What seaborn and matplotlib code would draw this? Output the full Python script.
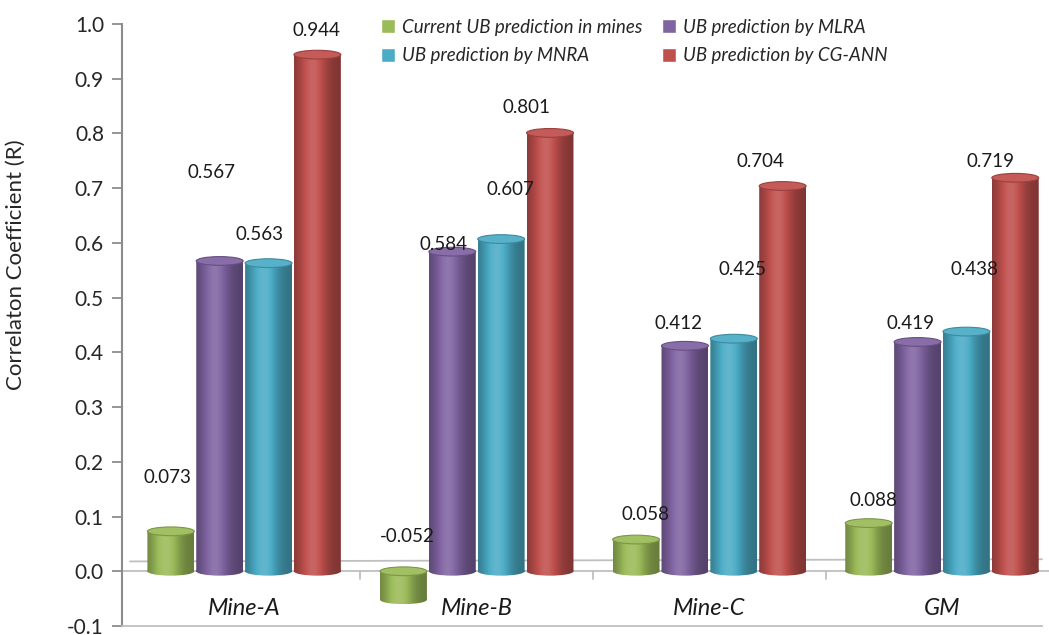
import numpy as np
import pandas as pd
import matplotlib
matplotlib.use("Agg")
import matplotlib.pyplot as plt
from matplotlib.patches import Ellipse, PathPatch
from matplotlib.path import Path
from matplotlib.colors import to_rgb
import seaborn as sns

# ---- data ----
sites = ["Mine-A", "Mine-B", "Mine-C", "GM"]
methods = [
    "Current UB prediction in mines",
    "UB prediction by MLRA",
    "UB prediction by MNRA",
    "UB prediction by CG-ANN",
]
current_ub = [0.073, -0.052, 0.058, 0.088]
mlra = [0.567, 0.584, 0.412, 0.419]
mnra = [0.563, 0.607, 0.425, 0.438]
cg_ann = [0.944, 0.801, 0.704, 0.719]
y_ticks = [-0.1, 0.0, 0.1, 0.2, 0.3, 0.4, 0.5, 0.6, 0.7, 0.8, 0.9, 1.0]

colors = ["#9BBB59", "#8064A2", "#4BACC6", "#C0504D"]

# value-label offsets (dx, dy) in data units, per method then site
label_dx = [
    [-0.013, 0.017, 0.039, 0.021],
    [-0.034, -0.039, -0.026, -0.030],
    [-0.039, 0.039, 0.039, 0.034],
    [-0.004, -0.099, -0.094, -0.107],
]
label_dy = [
    [0.099, 0.116, 0.046, 0.042],
    [0.162, 0.014, 0.040, 0.033],
    [0.053, 0.091, 0.127, 0.114],
    [0.045, 0.047, 0.044, 0.029],
]

series = [current_ub, mlra, mnra, cg_ann]
df = pd.DataFrame({
    "site": np.tile(sites, len(methods)),
    "method": np.repeat(methods, len(sites)),
    "R": np.concatenate(series),
})

sns.set_theme(style="white")
plt.rcParams["font.family"] = ["Lato", "DejaVu Sans"]

W, H = 1049, 635
fig = plt.figure(figsize=(W / 100, H / 100), dpi=100)
ax = fig.add_axes([122 / W, (H - 626) / H, (W - 122) / W, (626 - 24) / H])

sns.barplot(data=df, x="site", y="R", hue="method", hue_order=methods,
            palette=colors, saturation=1, width=0.84, gap=0.04,
            errorbar=None, ax=ax)


def shade(rgb, f):
    rgb = np.array(rgb)
    if f >= 1:
        return np.clip(rgb + (1 - rgb) * (f - 1), 0, 1)
    return np.clip(rgb * f, 0, 1)


def cylinder_img(rgb, n=96):
    t = np.linspace(0, 1, n)
    f = 0.66 + 0.46 * np.exp(-((t - 0.4) / 0.3) ** 2)
    img = np.array([shade(rgb, v) for v in f])
    return img[np.newaxis, :, :]


cap_h = 0.016
for ci, cont in enumerate(ax.containers):
    rgb = to_rgb(colors[ci])
    img = cylinder_img(rgb)
    for si, bar in enumerate(cont.patches):
        x0 = bar.get_x()
        w = bar.get_width()
        y0 = bar.get_y()
        h = bar.get_height()
        lo, hi = min(y0, y0 + h), max(y0, y0 + h)
        bar.set_visible(False)
        # cylinder body: rectangle plus rounded bottom, filled with a gradient
        body = plt.Rectangle((x0, lo), w, hi - lo)
        bottom = Ellipse((x0 + w / 2, lo), w, cap_h)
        outline = Path.make_compound_path(
            body.get_path().transformed(body.get_patch_transform()),
            bottom.get_path().transformed(bottom.get_patch_transform()))
        cp = PathPatch(outline, transform=ax.transData, facecolor="none",
                       edgecolor="none")
        ax.add_patch(cp)
        im = ax.imshow(img, extent=(x0, x0 + w, lo - cap_h / 2, hi),
                       aspect="auto", zorder=3, interpolation="bilinear")
        im.set_clip_path(cp)
        # top cap
        top = Ellipse((x0 + w / 2, hi), w, cap_h, facecolor=shade(rgb, 1.06),
                      edgecolor=shade(rgb, 0.8), lw=0.8, zorder=4)
        ax.add_patch(top)
        # value label
        val = series[ci][si]
        ax.text(x0 + w / 2 + label_dx[ci][si], val + label_dy[ci][si],
                f"{val:.3f}", ha="center", va="center", fontsize=13.5,
                color="#1a1a1a", zorder=5)

ax.set_xlim(-0.525, 3.46)
ax.set_ylim(-0.1, 1.0)

# floor
grey = "#BFBFBF"
ax.axhline(0.0, color=grey, lw=1.3, zorder=2)
ax.plot([-0.49, 3.43], [0.018, 0.022], color=grey, lw=1.3, zorder=2)
for b in [0.5, 1.5, 2.5]:
    ax.plot([b, b], [0.0, -0.015], color=grey, lw=1.3, zorder=2)

ax.set_yticks(y_ticks)
ax.set_yticklabels([f"{v:.1f}" for v in y_ticks], fontsize=15)
ax.tick_params(axis="y", length=7, width=1.3, color="#8C8C8C", left=True,
               pad=6)
ax.set_xticks([])
ax.set_xlabel("")
for i, s in enumerate(sites):
    ax.text(i, -0.068, s, ha="center", va="center", fontsize=17,
            style="italic", color="#1a1a1a")

ax.set_ylabel("Correlaton Coefficient (R)", fontsize=16)
ax.yaxis.set_label_coords(-0.104, 0.60)

for side in ["top", "right"]:
    ax.spines[side].set_visible(False)
ax.spines["left"].set_color("#8C8C8C")
ax.spines["left"].set_linewidth(1.5)
ax.spines["bottom"].set_color(grey)
ax.spines["bottom"].set_linewidth(1.3)
ax.spines["bottom"].set_bounds(-0.525, 3.43)

# legend laid out row-wise: (Current, MLRA) / (MNRA, CG-ANN)
handles, labels = ax.get_legend_handles_labels()
order = [0, 2, 1, 3]
ax.legend([handles[i] for i in order], [labels[i] for i in order],
          loc="upper left", bbox_to_anchor=(364 / W, 1 - 2 / H),
          bbox_transform=fig.transFigure, ncol=2, frameon=False,
          prop={"style": "italic", "size": 13.5},
          handlelength=0.75, handleheight=0.75, handletextpad=0.4,
          columnspacing=1.0, labelspacing=0.62)

fig.savefig("out.png", dpi=100)
